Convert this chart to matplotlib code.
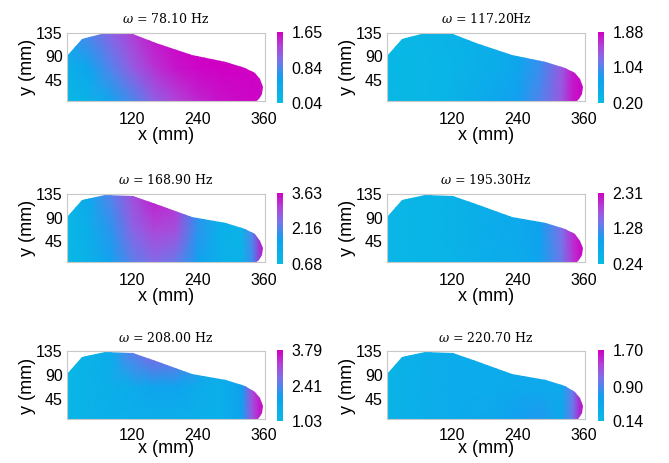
import numpy as np
import matplotlib.pyplot as plt
from matplotlib.colors import LinearSegmentedColormap
from matplotlib.patches import Polygon

plt.rcParams['font.family'] = ['Liberation Sans', 'DejaVu Sans']
plt.rcParams['mathtext.fontset'] = 'dejavuserif'

# outline of the plate (mm)
outline_x = [0, 0, 27, 70, 121, 164, 230, 291, 327, 345, 354, 359, 358, 352, 342, 0]
outline_y = [0, 91, 124, 134, 132, 116, 92, 80, 68, 58, 46, 31, 18, 8, 0, 0]

grid_x = [0, 40, 80, 120, 160, 200, 240, 280, 320, 340, 360]
grid_y = [0, 67.5, 135]

titles = [r'$\omega$ = 78.10 Hz', r'$\omega$ = 117.20Hz', r'$\omega$ = 168.90 Hz',
          r'$\omega$ = 195.30Hz', r'$\omega$ = 208.00 Hz', r'$\omega$ = 220.70 Hz']

cbar_ticks = [[0.04, 0.84, 1.65], [0.20, 1.04, 1.88], [0.68, 2.16, 3.63],
              [0.24, 1.28, 2.31], [1.03, 2.41, 3.79], [0.14, 0.90, 1.70]]

# rows: y = 0, 67.5, 135
mode_78 = [[0.04, 0.20, 0.45, 0.80, 1.10, 1.30, 1.45, 1.55, 1.60, 1.62, 1.60],
           [0.25, 0.50, 0.85, 1.15, 1.40, 1.55, 1.62, 1.65, 1.65, 1.65, 1.65],
           [0.55, 0.85, 1.10, 1.35, 1.55, 1.62, 1.65, 1.65, 1.65, 1.65, 1.65]]
mode_117 = [[0.22, 0.26, 0.30, 0.36, 0.50, 0.65, 0.80, 1.05, 1.40, 1.75, 1.88],
            [0.22, 0.26, 0.30, 0.34, 0.42, 0.52, 0.65, 0.95, 1.40, 1.75, 1.88],
            [0.24, 0.28, 0.32, 0.36, 0.42, 0.50, 0.62, 0.90, 1.35, 1.70, 1.85]]
mode_168 = [[0.72, 1.00, 1.60, 2.20, 2.50, 2.30, 1.60, 1.10, 0.95, 2.00, 3.40],
            [0.75, 1.20, 1.90, 2.60, 3.00, 2.90, 1.90, 1.10, 0.90, 2.20, 3.63],
            [0.80, 1.40, 2.20, 2.90, 3.40, 3.20, 1.90, 1.10, 0.95, 2.30, 3.63]]
mode_195 = [[0.35, 0.36, 0.38, 0.42, 0.52, 0.60, 0.65, 0.85, 1.40, 1.95, 2.31],
            [0.34, 0.36, 0.38, 0.45, 0.55, 0.65, 0.70, 0.90, 1.50, 2.05, 2.31],
            [0.34, 0.36, 0.38, 0.45, 0.55, 0.65, 0.70, 0.90, 1.50, 2.05, 2.31]]
mode_208 = [[1.15, 1.35, 1.45, 1.45, 1.45, 1.45, 1.45, 1.40, 1.90, 3.00, 3.79],
            [1.15, 1.35, 1.45, 1.60, 1.85, 1.85, 1.60, 1.40, 1.95, 3.20, 3.79],
            [1.15, 1.35, 1.60, 2.50, 2.90, 2.80, 2.20, 1.50, 1.95, 3.20, 3.79]]
mode_220 = [[0.25, 0.35, 0.40, 0.45, 0.50, 0.55, 0.70, 0.75, 0.50, 1.00, 1.70],
            [0.25, 0.35, 0.40, 0.45, 0.45, 0.45, 0.50, 0.50, 0.50, 1.00, 1.70],
            [0.25, 0.35, 0.40, 0.45, 0.45, 0.45, 0.50, 0.50, 0.50, 1.00, 1.70]]
modes = [mode_78, mode_117, mode_168, mode_195, mode_208, mode_220]

cmap = LinearSegmentedColormap.from_list('cm', [
    (0.0, '#08bae4'), (0.35, '#10a0f0'), (0.6, '#7c72ea'),
    (0.8, '#b044d8'), (1.0, '#cf00c4')])

fig = plt.figure(figsize=(6.69, 4.63), dpi=100)

lefts = [0.100, 0.5785]
cb_lefts = [0.414, 0.894]
bottoms = [0.782, 0.434, 0.094]
w, h = 0.296, 0.147

X, Y = np.meshgrid(grid_x, grid_y)
for i in range(6):
    r, c = divmod(i, 2)
    ax = fig.add_axes([lefts[c], bottoms[r], w, h])
    Z = np.array(modes[i])
    t = cbar_ticks[i]
    mesh = ax.pcolormesh(X, Y, Z, shading='gouraud', cmap=cmap, vmin=t[0], vmax=t[2])
    poly = Polygon(np.column_stack([outline_x, outline_y]), closed=True,
                   facecolor='none', edgecolor='none', transform=ax.transData)
    ax.add_patch(poly)
    mesh.set_clip_path(poly)
    ax.set_xlim(0, 363)
    ax.set_ylim(5, 135)
    ax.set_xticks([120, 240, 360])
    ax.set_yticks([45, 90, 135])
    ax.tick_params(length=0, labelsize=11.5)
    ax.tick_params(axis='x', pad=8 if r < 2 else 6)
    ax.tick_params(axis='y', pad=3)
    for s in ax.spines.values():
        s.set_color('#c8c8c8')
        s.set_linewidth(0.8)
    ax.set_xlabel('x (mm)', fontsize=13, labelpad=0 if r < 2 else -2)
    ax.set_ylabel('y (mm)', fontsize=13, labelpad=0)
    ax.set_title(titles[i], fontsize=9, family='DejaVu Serif', pad=7)

    cax = fig.add_axes([cb_lefts[c], bottoms[r] - 0.004, 0.009, h + 0.006])
    cb = fig.colorbar(mesh, cax=cax, ticks=t)
    cb.outline.set_visible(False)
    cb.ax.set_yticklabels(['%.2f' % v for v in t])
    cax.tick_params(length=0, labelsize=11.5, pad=6)

plt.savefig('out.png', dpi=100)
